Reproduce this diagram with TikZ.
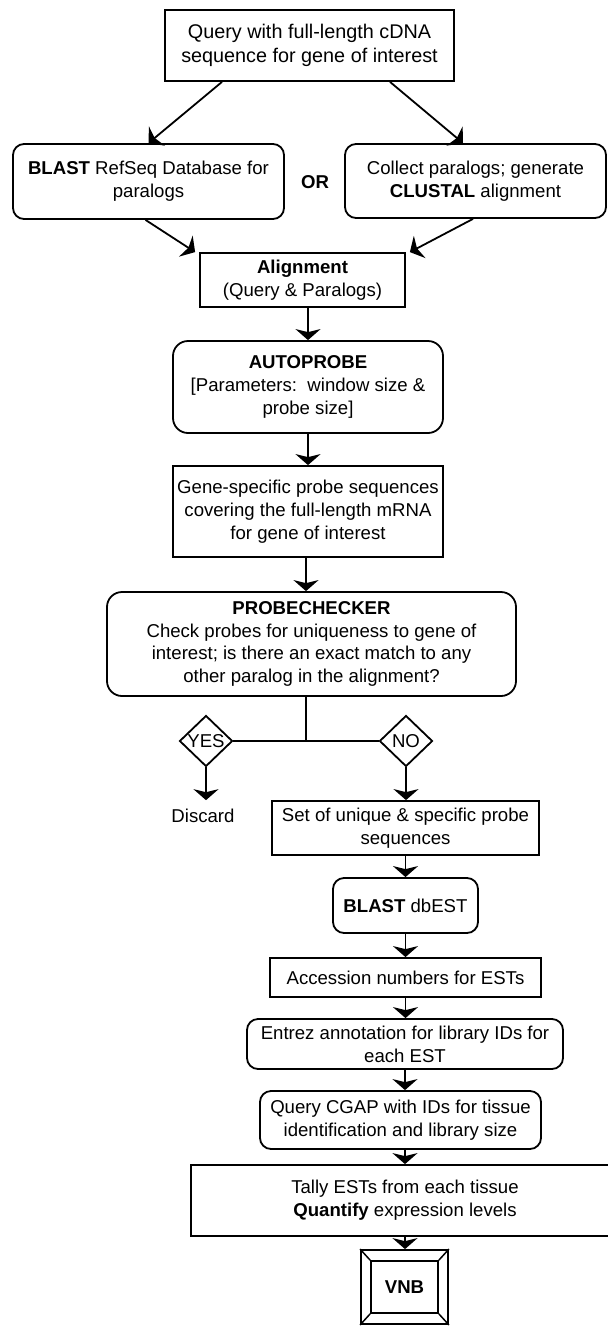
\documentclass[tikz,border=0pt]{standalone}
\usepackage{fontspec}
\setmainfont{Liberation Sans}
\usepackage{tikz}
\usetikzlibrary{arrows.meta,shapes.geometric}
\newcommand{\flowfont}{\fontsize{18.6pt}{22.8pt}\selectfont}
\tikzstyle{Box}=[rectangle, draw=black, line width=1.8pt, inner sep=0pt, align=center, font=\flowfont]
\tikzstyle{RBox}=[Box, rounded corners=11pt]
\tikzstyle{Choice}=[diamond, draw=black, line width=1.8pt, inner sep=0pt, minimum width=53, minimum height=51, font=\flowfont]
\tikzstyle{Flow}=[line width=1.8pt, -{Stealth[length=11pt,width=25pt,inset=3pt]}]

\begin{document}
\begin{tikzpicture}[x=1pt,y=-1pt]
    \useasboundingbox (0,0) rectangle (608,1326);
    \path
    (309.5,45.5) node[Box, font=\fontsize{19.8pt}{23.5pt}\selectfont, minimum width=289, minimum height=71] (query) {Query with full-length cDNA\\sequence for gene of interest}
    (148.5,181.5) node[RBox, minimum width=271, minimum height=75] (blastref) {\textbf{BLAST} RefSeq Database for\\paralogs}
    (475.5,181) node[RBox, minimum width=261, minimum height=74] (clustal) {Collect paralogs; generate\\\textbf{CLUSTAL} alignment}
    (315,182) node[font=\flowfont\bfseries] (or) {OR}
    (302.5,280) node[Box, minimum width=205, minimum height=54] (align) {\textbf{Alignment}\\(Query \& Paralogs)}
    (308,387) node[RBox, rounded corners=15pt, minimum width=270, minimum height=92] (autoprobe) {\textbf{AUTOPROBE}\\{[}Parameters:\ \ window size \&\\probe size]}
    (308,511.5) node[Box, minimum width=270, minimum height=91] (genespec) {Gene-specific probe sequences\\covering the full-length mRNA\\for gene of interest}
    (311.5,644) node[RBox, rounded corners=15pt, minimum width=409, minimum height=104] (probecheck) {\textbf{PROBECHECKER}\\Check probes for uniqueness to gene of\\interest; is there an exact match to any\\other paralog in the alignment?};

    \path
    (306,741) coordinate (split)
    (206,741) node[Choice] (yes) {\makebox[0pt]{YES}}
    (406,741) node[Choice] (no) {\makebox[0pt]{NO}}
    (203,816) node[font=\flowfont, inner sep=0pt, outer sep=9pt] (discard) {Discard}
    (405.5,828) node[Box, minimum width=267, minimum height=54] (set) {Set of unique \& specific probe\\sequences}
    (405.5,905.5) node[RBox, minimum width=145, minimum height=55] (blastdb) {\textbf{BLAST} dbEST}
    (405.5,977.5) node[Box, minimum width=271, minimum height=39] (accession) {Accession numbers for ESTs}
    (405,1044) node[RBox, minimum width=316, minimum height=50] (entrez) {Entrez annotation for library IDs for\\each EST}
    (400.5,1120) node[RBox, minimum width=281, minimum height=58] (cgap) {Query CGAP with IDs for tissue\\identification and library size}
    (405,1200.5) node[Box, minimum width=428, minimum height=71] (tally) {Tally ESTs from each tissue\\\textbf{Quantify} expression levels}
    (404.5,1287) node[Box, minimum width=87, minimum height=74] (vnb) {}
    (404.5,1287) node[Box, minimum width=67, minimum height=52] (vnbin) {\textbf{VNB}};

    % top split into the two ways of getting paralogs
    \draw[Flow] ([xshift=-87.5pt]query.south) -- (blastref.north);
    \draw[Flow] ([xshift=80.5pt]query.south) -- ([xshift=-12.5pt]clustal.north);
    \draw[Flow] ([xshift=-3pt]blastref.south) -- ([xshift=-4pt]align.north west);
    \draw[Flow] ([xshift=-2.5pt]clustal.south) -- ([xshift=4pt]align.north east);

    \draw[Flow] (autoprobe.north |- align.south) -- (autoprobe.north);
    \draw[Flow] (autoprobe) -- (genespec);
    \draw[Flow] (split |- genespec.south) -- (split |- probecheck.north);

    % decision
    \draw[line width=1.8pt] (probecheck.south -| split) -- (split);
    \draw[line width=1.8pt] (yes.east) -- (no.west);
    \draw[Flow] (yes.south) -- (yes.south |- discard.north);
    \draw[Flow] (no.south) -- (no.south |- set.north);

    \draw[Flow] (set) -- (blastdb);
    \draw[Flow] (blastdb) -- (accession);
    \draw[Flow] (accession.south) -- (accession.south |- entrez.north);
    \draw[Flow] (entrez.south) -- (entrez.south |- cgap.north);
    \draw[Flow] (tally.north |- cgap.south) -- (tally.north);
    \draw[Flow] (tally.south) -- (tally.south |- vnb.north);

    \foreach \c in {north west, north east, south west, south east}
        \draw[line width=1.5pt] (vnb.\c) -- (vnbin.\c);
\end{tikzpicture}
\end{document}
